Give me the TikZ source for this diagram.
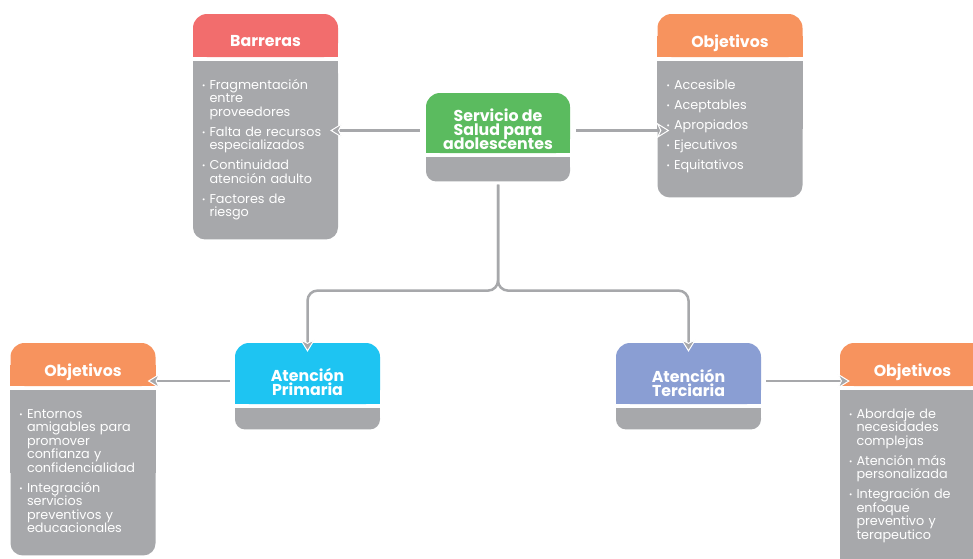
\documentclass[tikz,border=0pt]{standalone}
\usepackage{fontspec}
\setmainfont{Poppins}
\usetikzlibrary{arrows.meta,positioning,backgrounds}
\definecolor{barred}{HTML}{F26D6D}
\definecolor{objorange}{HTML}{F7935E}
\definecolor{healthgreen}{HTML}{5BBB5F}
\definecolor{primcyan}{HTML}{1EC4F2}
\definecolor{tercblue}{HTML}{8A9ED3}
\definecolor{cardgray}{HTML}{A7A8AB}
\definecolor{linkgray}{HTML}{A7A8AB}

% tight titles
\setlength{\lineskiplimit}{-5pt}

% one bullet point with hanging lines
\newcommand{\bul}[1]{\par\noindent\hangindent=7.5pt\hangafter=1%
  \makebox[7.5pt][l]{\raisebox{1pt}{\fontsize{8}{8}\selectfont\textbullet}}#1\par}
% extra room above the first title line
\newcommand{\lift}[1]{\rule{0pt}{#1}}

\tikzset{
  head/.style={
    rectangle,
    rounded corners=14pt,
    text=white,
    minimum width=145pt,
    inner sep=0pt,
    align=center,
    font=\bfseries\fontsize{15.8}{14}\selectfont
  },
  base/.style={
    rectangle,
    rounded corners=12pt,
    fill=cardgray,
    minimum width=145pt,
    inner sep=0pt
  },
  items/.style={
    anchor=north west,
    text=white,
    text width=134pt,
    align=left,
    inner sep=0pt,
    font=\fontsize{12.8}{13.5}\selectfont\setlength{\parskip}{6.5pt}
  },
  link/.style={
    draw=linkgray,
    line width=2.5pt,
    -{Stealth[length=13pt,width=16pt,inset=4pt,line width=1pt,color=white,fill=linkgray]}
  }
}

\begin{document}
\begin{tikzpicture}[x=1pt,y=-1pt]
\useasboundingbox (0,0) rectangle (973,558);

% centre
\node[head, fill=healthgreen, minimum width=144pt, minimum height=60pt] (cenH) at (498,123)
  {\lift{25pt}Servicio de\\Salud para\\adolescentes};
\node[base, minimum width=144pt, minimum height=24pt, rounded corners=10pt, below=4pt of cenH] (cenB) {};

% barriers
\node[head, fill=barred, minimum height=43pt] (barH) at (265.5,35.5) {\lift{22pt}Barreras};
\node[base, minimum height=178pt, below=4pt of barH] (barB) {};
\node[items] (barL) at ([xshift=9pt,yshift=-8pt]barB.north west) {%
  \bul{Fragmentación\newline entre\newline proveedores}
  \bul{Falta de recursos\newline especializados}
  \bul{Continuidad\newline atención adulto}
  \bul{Factores de\newline riesgo}};

% objectives of the service
\node[head, fill=objorange, minimum height=43pt] (objH) at (730,35.5) {\lift{28pt}Objetivos};
\node[base, minimum height=136pt, below=4pt of objH] (objB) {};
\node[items] (objL) at ([xshift=9pt,yshift=-8pt]objB.north west) {%
  \bul{Accesible}
  \bul{Aceptables}
  \bul{Apropiados}
  \bul{Ejecutivos}
  \bul{Equitativos}};

% primary care
\node[head, fill=primcyan, minimum height=61pt] (priH) at (307.5,373.5) {\lift{30pt}Atención\\Primaria};
\node[base, minimum height=21pt, rounded corners=10pt, below=4pt of priH] (priB) {};

% tertiary care
\node[head, fill=tercblue, minimum height=61pt] (terH) at (688.5,373.5) {\lift{32pt}Atención\\Terciaria};
\node[base, minimum height=21pt, rounded corners=10pt, below=4pt of terH] (terB) {};

% objectives of primary care
\node[head, fill=objorange, minimum height=43pt] (obaH) at (83,364.5) {\lift{28pt}Objetivos};
\node[base, minimum height=165pt, below=4pt of obaH] (obaB) {};
\node[items] (obaL) at ([xshift=9pt,yshift=-8pt]obaB.north west) {%
  \bul{Entornos\newline amigables para\newline promover\newline confianza y\newline confidencialidad}
  \bul{Integración\newline servicios\newline preventivos y\newline educacionales}};

% objectives of tertiary care
\node[head, fill=objorange, minimum height=43pt] (obbH) at (912.5,364.5) {\lift{28pt}Objetivos};
\node[base, minimum height=180pt, below=4pt of obbH] (obbB) {};
\node[items] (obbL) at ([xshift=9pt,yshift=-8pt]obbB.north west) {%
  \bul{Abordaje de\newline necesidades\newline complejas}
  \bul{Atención más\newline personalizada}
  \bul{Integración de\newline enfoque\newline preventivo y\newline terapeutico}};

% square off the inner corners of every card
\begin{scope}[on background layer]
  \fill[white] (0,0) rectangle (973,558);
  \foreach \n/\c in {cenH/healthgreen, barH/barred, objH/objorange, priH/primcyan,
                     terH/tercblue, obaH/objorange, obbH/objorange}
    \fill[\c] (\n.west) rectangle (\n.south east);
  \foreach \n in {cenB, barB, objB, priB, terB, obaB, obbB}
    \fill[cardgray] (\n.north west) rectangle (\n.east);
\end{scope}

% connectors
\coordinate (cenL) at ([xshift=-6pt,yshift=-7.5pt]cenH.west);
\coordinate (cenR) at ([xshift=6pt,yshift=-7.5pt]cenH.east);
\coordinate (priL) at ([xshift=-5pt,yshift=-7.5pt]priH.west);
\coordinate (terR) at ([xshift=5pt,yshift=-7.5pt]terH.east);

\draw[link, shorten >=-8pt] (cenL) -- (barB.east |- cenL);
\draw[link, shorten >=-12pt] (cenR) -- (objB.west |- cenR);
\draw[link, rounded corners=10pt, shorten >=-9pt] ([yshift=-3pt]cenB.south) -- ++(0,106) -| (priH.north);
\draw[link, rounded corners=10pt, shorten >=-9pt] ([yshift=-3pt]cenB.south) -- ++(0,106) -| (terH.north);
\draw[link, shorten >=-8pt] (priL) -- (obaH.east |- priL);
\draw[link, shorten >=-10pt] (terR) -- (obbH.west |- terR);

\end{tikzpicture}
\end{document}
